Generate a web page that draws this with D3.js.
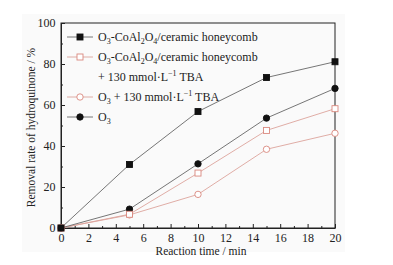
<!DOCTYPE html>
<html>
<head>
<meta charset="utf-8">
<script src="https://cdn.jsdelivr.net/npm/d3@7"></script>
<style>
  body { margin: 0; background: #fff; }
  svg { display: block; font-family: "Liberation Serif", "DejaVu Serif", serif; }
</style>
</head>
<body>
<div id="chart"></div>
<script>
// Reaction time (min)
const times = [0, 5, 10, 15, 20];

// Removal rate of hydroquinone (%)
const catalystValues = [0, 31, 56.8, 73.4, 81.1];
const catalystTbaValues = [0, 6.7, 26.8, 47.6, 58.2];
const ozoneTbaValues = [0, 6.4, 16.4, 38.4, 46.2];
const ozoneValues = [0, 9.2, 31.3, 53.6, 68.1];

const xTicks = [0, 2, 4, 6, 8, 10, 12, 14, 16, 18, 20];
const yTicks = [0, 20, 40, 60, 80, 100];

const series = [
  { name: ["O|3|-CoAl|2|O|4|/ceramic honeycomb"], values: catalystValues, color: "#111", line: "#666", marker: "square", filled: true },
  { name: ["O|3|-CoAl|2|O|4|/ceramic honeycomb", "+ 130 mmol·L^−1^ TBA"], values: catalystTbaValues, color: "#d9887e", line: "#dca49c", marker: "square", filled: false },
  { name: ["O|3| + 130 mmol·L^−1^ TBA"], values: ozoneTbaValues, color: "#d9887e", line: "#dca49c", marker: "circle", filled: false },
  { name: ["O|3|"], values: ozoneValues, color: "#111", line: "#666", marker: "circle", filled: true }
];

const width = 393, height = 265;
const margin = { left: 61, right: 58, top: 23, bottom: 37 };
const innerW = width - margin.left - margin.right;
const innerH = height - margin.top - margin.bottom;

const svg = d3.select("#chart").append("svg")
  .attr("width", width)
  .attr("height", height);

// faint grey page background of the figure
svg.append("rect")
  .attr("x", 22).attr("y", 14)
  .attr("width", 323).attr("height", 238)
  .attr("fill", "#fafafa");

const g = svg.append("g").attr("transform", `translate(${margin.left},${margin.top})`);

const x = d3.scaleLinear().domain([0, 20]).range([0, innerW]);
const y = d3.scaleLinear().domain([0, 100]).range([innerH, 0]);

// frame
g.append("rect")
  .attr("width", innerW).attr("height", innerH)
  .attr("fill", "none").attr("stroke", "#222").attr("stroke-width", 1);

// x axis, ticks pointing in
g.append("g").attr("transform", `translate(0,${innerH})`)
  .call(d3.axisBottom(x).tickValues(xTicks).tickSizeInner(-4).tickSizeOuter(0).tickPadding(5.5));
g.append("g").attr("transform", `translate(0,${innerH})`)
  .call(d3.axisBottom(x).tickValues(d3.range(1, 20, 2)).tickSizeInner(-2).tickSizeOuter(0).tickFormat(""))
  .select(".domain").remove();

// y axis, ticks pointing in
g.append("g")
  .call(d3.axisLeft(y).tickValues(yTicks).tickSizeInner(-4).tickSizeOuter(0).tickPadding(5.5));
g.append("g")
  .call(d3.axisLeft(y).tickValues(d3.range(10, 100, 20)).tickSizeInner(-2).tickSizeOuter(0).tickFormat(""))
  .select(".domain").remove();

g.selectAll(".tick text")
  .style("font-family", "'Liberation Serif', serif")
  .style("font-size", "12px")
  .attr("fill", "#222");
g.selectAll(".domain, .tick line").attr("stroke", "#222");

// axis titles
svg.append("text")
  .attr("x", margin.left + innerW / 2 + 3)
  .attr("y", 255)
  .attr("text-anchor", "middle")
  .attr("font-size", 11.5)
  .attr("fill", "#222")
  .text("Reaction time / min");

svg.append("text")
  .attr("transform", `translate(35,${margin.top + innerH / 2 + 2}) rotate(-90)`)
  .attr("text-anchor", "middle")
  .attr("font-size", 11.5)
  .attr("fill", "#222")
  .text("Removal rate of hydroquinone / %");

// lines and markers
const line = d3.line().x((d, i) => x(times[i])).y(d => y(d));

function drawMarker(sel, s, cx, cy) {
  if (s.marker === "square") {
    sel.append("rect")
      .attr("x", cx - 3).attr("y", cy - 3)
      .attr("width", 6).attr("height", 6)
      .attr("fill", s.filled ? s.color : "#fff")
      .attr("stroke", s.color).attr("stroke-width", 0.9);
  } else {
    sel.append("circle")
      .attr("cx", cx).attr("cy", cy).attr("r", 3.2)
      .attr("fill", s.filled ? s.color : "#fff")
      .attr("stroke", s.color).attr("stroke-width", 0.9);
  }
}

series.forEach(s => {
  g.append("path")
    .datum(s.values)
    .attr("d", line)
    .attr("fill", "none")
    .attr("stroke", s.line)
    .attr("stroke-width", 0.9);
});
// draw markers in reverse so the black ones sit on top
series.slice().reverse().forEach(s => {
  const mg = g.append("g");
  s.values.forEach((v, i) => drawMarker(mg, s, x(times[i]), y(v)));
});

// rich text: "|" toggles subscript, "^" toggles superscript
function richText(textSel, str) {
  const parts = str.split(/([|^])/);
  let mode = null;
  parts.forEach(p => {
    if (p === "|") { mode = mode === "sub" ? null : "sub"; return; }
    if (p === "^") { mode = mode === "sup" ? null : "sup"; return; }
    if (!p) return;
    const t = textSel.append("tspan").text(p);
    if (mode === "sub") t.attr("font-size", 8).attr("baseline-shift", -3);
    else if (mode === "sup") t.attr("font-size", 8).attr("baseline-shift", 5);
  });
}

// legend
const legendRows = [37, 57, 97, 117];
const legend = svg.append("g");
series.forEach((s, i) => {
  const ly = legendRows[i];
  legend.append("line")
    .attr("x1", 67).attr("x2", 93)
    .attr("y1", ly).attr("y2", ly)
    .attr("stroke", s.line).attr("stroke-width", 0.9);
  drawMarker(legend, s, 80, ly);
  s.name.forEach((nm, k) => {
    const t = legend.append("text")
      .attr("x", 98)
      .attr("y", ly + 4 + k * 20)
      .attr("font-size", 12)
      .attr("fill", "#222");
    richText(t, nm);
  });
});
</script>
</body>
</html>
